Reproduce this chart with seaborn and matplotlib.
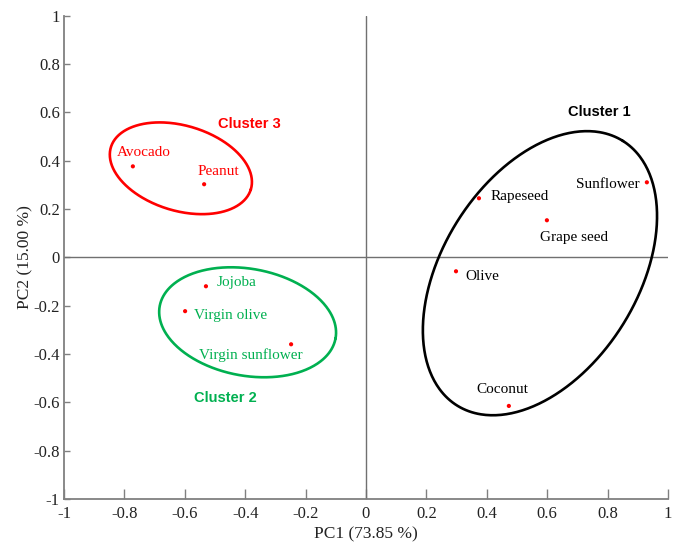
import numpy as np
import pandas as pd
import matplotlib
matplotlib.use("Agg")
import matplotlib.pyplot as plt
import seaborn as sns

# ---- data ----
oils = ["Avocado", "Peanut", "Jojoba", "Virgin olive", "Virgin sunflower",
        "Rapeseed", "Sunflower", "Grape seed", "Olive", "Coconut"]
pc1 = [-0.772, -0.536, -0.530, -0.599, -0.248, 0.374, 0.930, 0.599, 0.298, 0.473]
pc2 = [0.376, 0.302, -0.120, -0.223, -0.360, 0.244, 0.310, 0.153, -0.058, -0.615]
cluster = [3, 3, 2, 2, 2, 1, 1, 1, 1, 1]

# label positions (data coords)
label_x = [-0.735, -0.490, -0.429, -0.447, -0.382, 0.508, 0.800, 0.689, 0.386, 0.450]
label_y = [0.434, 0.356, -0.103, -0.240, -0.405, 0.252, 0.302, 0.083, -0.079, -0.546]

cluster_names = ["Cluster 1", "Cluster 2", "Cluster 3"]
cluster_colors = ["#000000", "#00B050", "#FF0000"]
cluster_label_x = [0.773, -0.464, -0.386]
cluster_label_y = [0.600, -0.583, 0.550]
# ellipse: centre (data), semi axes (in x-data units, screen aligned), angle (deg, on screen)
ell_cx = [0.576, -0.392, -0.613]
ell_cy = [-0.066, -0.269, 0.368]
ell_a = [0.517, 0.296, 0.242]
ell_b = [0.323, 0.177, 0.141]
ell_ang = [57.9, -10.4, -16.7]

xticks = [-1, -0.8, -0.6, -0.4, -0.2, 0, 0.2, 0.4, 0.6, 0.8, 1]
tick_labels = ["-1", "-0.8", "-0.6", "-0.4", "-0.2", "0", "0.2", "0.4", "0.6", "0.8", "1"]

sns.set_theme(style="white")
plt.rcParams["font.family"] = ["Liberation Serif", "DejaVu Serif"]

fig = plt.figure(figsize=(6.73, 5.42), dpi=100)
ax = fig.add_axes([64 / 673, 1 - 499 / 542, (668 - 64) / 673, (499 - 15.5) / 542])
ax.set_xlim(-1, 1)
ax.set_ylim(-1, 1)

df = pd.DataFrame({"pc1": pc1, "pc2": pc2, "oil": oils})
ax.axhline(0, color="#707070", lw=1.0, zorder=1)
ax.axvline(0, color="#707070", lw=1.0, zorder=1)
sns.scatterplot(data=df, x="pc1", y="pc2", ax=ax, color="#FF0000", s=9,
                edgecolor="none", zorder=5, legend=False)

# ellipses
fig.canvas.draw()
trans = ax.transData
px_per_x = trans.transform((1, 0))[0] - trans.transform((0, 0))[0]
t = np.linspace(0, 2 * np.pi, 400)
for i in range(3):
    c = trans.transform((ell_cx[i], ell_cy[i]))
    a = ell_a[i] * px_per_x
    b = ell_b[i] * px_per_x
    th = np.deg2rad(ell_ang[i])
    px = c[0] + a * np.cos(t) * np.cos(th) - b * np.sin(t) * np.sin(th)
    py = c[1] + a * np.cos(t) * np.sin(th) + b * np.sin(t) * np.cos(th)
    d = trans.inverted().transform(np.column_stack([px, py]))
    ax.plot(d[:, 0], d[:, 1], color=cluster_colors[i], lw=1.9, zorder=3)
    ax.text(cluster_label_x[i], cluster_label_y[i], cluster_names[i],
            color=cluster_colors[i], fontsize=10.5, fontweight="bold",
            family=["Liberation Sans", "DejaVu Sans"], ha="center", va="center")

for i, name in enumerate(oils):
    ax.text(label_x[i], label_y[i], name, color=cluster_colors[cluster[i] - 1],
            fontsize=11, ha="center", va="center")

ax.set_xticks(xticks)
ax.set_xticklabels(tick_labels)
ax.set_yticks(xticks)
ax.set_yticklabels(tick_labels)
ax.tick_params(axis="x", direction="in", length=7.5, width=1.0, color="#808080",
               labelsize=12, pad=5, bottom=True, labelcolor="#222222")
ax.tick_params(axis="y", direction="in", length=4.5, width=1.0, color="#808080",
               labelsize=12, pad=3, left=True, labelcolor="#222222")
for s in ["top", "right"]:
    ax.spines[s].set_visible(False)
for s in ["left", "bottom"]:
    ax.spines[s].set_color("#808080")
    ax.spines[s].set_linewidth(1.3)
ax.set_xlabel("PC1 (73.85 %)", fontsize=12.5, labelpad=3, color="#222222")
ax.set_ylabel("PC2 (15.00 %)", fontsize=12.5, labelpad=0, color="#222222")

fig.savefig("out.png", dpi=100)
